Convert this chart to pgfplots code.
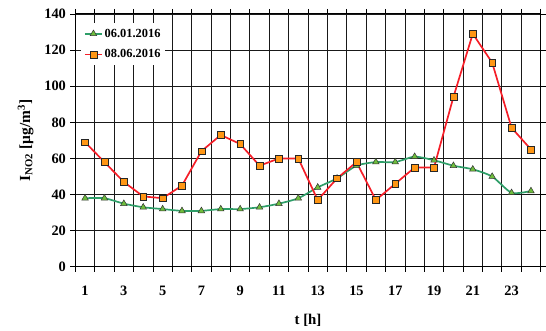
\documentclass[border=0pt]{standalone}
\usepackage{pgfplots}
\pgfplotsset{compat=1.18}
\usepackage{fontspec}
\setmainfont{Liberation Serif}
\definecolor{gline}{RGB}{46,158,104}
\definecolor{gfill}{RGB}{110,190,60}
\definecolor{rline}{RGB}{245,30,40}
\definecolor{ofill}{RGB}{255,150,20}
\begin{document}
\begin{tikzpicture}
\begin{axis}[
  scale only axis,
  width=469pt, height=255pt,
  xmin=0.5, xmax=24.5, ymin=0, ymax=140,
  xtick={1,3,...,23},
  minor xtick={0.5,1.5,...,24.5},
  ytick={0,20,...,140},
  major x tick style={draw=none},
  tick align=outside,
  major tick length=5pt, minor tick length=5pt,
  tick style={black, line width=0.8pt},
  xmajorgrids=false, xminorgrids=true, ymajorgrids=true,
  grid style={black!90, line width=0.8pt},
  minor grid style={black!90, line width=0.8pt},
  axis line style={black, line width=0.9pt},
  tick label style={font=\fontsize{14.5}{16}\selectfont\bfseries},
  xticklabel style={yshift=-11pt},
  yticklabel style={xshift=-1pt},
  /pgf/number format/assume math mode=true,
  xlabel={\fontsize{15}{17}\selectfont\bfseries t [h]},
  ylabel={\fontsize{15.5}{17}\selectfont\bfseries I\textsubscript{NO2} [µg/m\textsuperscript{3}]},
  xlabel style={yshift=-12pt},
  ylabel style={yshift=4pt},
  legend style={at={(axis description cs:0.012,0.965)}, anchor=north west, draw=none, fill=white,
    font=\fontsize{12.5}{14}\selectfont\bfseries, row sep=7pt, inner xsep=3pt, inner ysep=4pt},
  legend cell align=left,
  clip=false,
]
\addplot[color=gline, line width=1.7pt, smooth, tension=0.4, mark=triangle*, mark size=3.8pt,
  mark options={fill=gfill, draw=black!80, line width=0.5pt, solid}]
coordinates {(1,38)(2,38)(3,35)(4,33)(5,32)(6,31)(7,31)(8,32)(9,32)(10,33)(11,35)(12,38)
(13,44)(14,49)(15,56)(16,58)(17,58)(18,61)(19,59)(20,56)(21,54)(22,50)(23,41)(24,42)};
\addlegendentry{06.01.2016}
\addplot[color=rline, line width=1.7pt, mark=square*, mark size=3.4pt,
  mark options={fill=ofill, draw=black!85, line width=0.5pt, solid}]
coordinates {(1,69)(2,58)(3,47)(4,39)(5,38)(6,45)(7,64)(8,73)(9,68)(10,56)(11,60)(12,60)
(13,37)(14,49)(15,58)(16,37)(17,46)(18,55)(19,55)(20,94)(21,129)(22,113)(23,77)(24,65)};
\addlegendentry{08.06.2016}
\path (axis description cs:-0.162,-0.235) rectangle (axis description cs:1.002,1.055);
\end{axis}
\end{tikzpicture}
\end{document}
